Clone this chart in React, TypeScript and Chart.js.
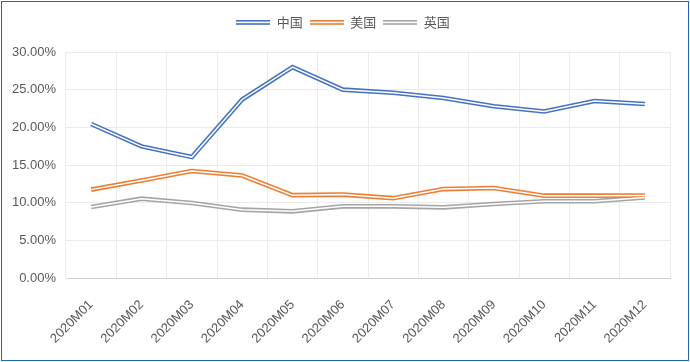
import React, { useEffect, useRef } from "react";
import { Chart, registerables } from "chart.js";

Chart.register(...registerables);

const categories = [
  "2020M01", "2020M02", "2020M03", "2020M04", "2020M05", "2020M06",
  "2020M07", "2020M08", "2020M09", "2020M10", "2020M11", "2020M12",
];
const seriesNames = ["中国", "美国", "英国"];
const chinaValues = [20.44, 17.47, 16.05, 23.7, 28.0, 25.0, 24.6, 23.9, 22.8, 22.1, 23.5, 23.1];
const usValues = [11.73, 12.93, 14.2, 13.6, 11.0, 11.07, 10.6, 11.8, 11.95, 10.93, 10.93, 10.96];
const ukValues = [9.42, 10.53, 9.96, 9.07, 8.85, 9.51, 9.51, 9.38, 9.82, 10.18, 10.18, 10.7];
const seriesColors = ["#4472C4", "#ED7D31", "#A5A5A5"];
const yMin = 0;
const yMax = 30;
const yStep = 5;

function makeSymbol(color: string): HTMLCanvasElement {
  const c = document.createElement("canvas");
  c.width = 34;
  c.height = 5;
  const ctx = c.getContext("2d")!;
  ctx.fillStyle = color;
  ctx.fillRect(0, 0, 34, 1.6);
  ctx.fillRect(0, 3.2, 34, 1.6);
  return c;
}

const legendSpacer = {
  id: "legendSpacer",
  beforeLayout(chart: any) {
    const lg = chart.legend;
    if (lg && !lg.__patched) {
      const orig = lg.fit;
      lg.fit = function (this: any) {
        orig.call(this);
        this.height += 13;
      };
      lg.__patched = true;
    }
  },
  afterLayout(chart: any) {
    const lg = chart.legend;
    if (lg) {
      lg.left += 8;
      lg.right += 8;
    }
  },
};

export default function App() {
  const ref = useRef<HTMLCanvasElement | null>(null);

  useEffect(() => {
    if (!ref.current) return;
    const all = [chinaValues, usValues, ukValues];
    const colored = all.map((vals, i) => ({
      label: seriesNames[i],
      data: vals,
      borderColor: seriesColors[i],
      backgroundColor: seriesColors[i],
      borderWidth: 4.6,
      pointRadius: 0,
      pointStyle: makeSymbol(seriesColors[i]),
      tension: 0,
      order: 1,
    }));
    const whites = all.map((vals, i) => ({
      label: "_w" + i,
      data: vals,
      borderColor: "#FFFFFF",
      backgroundColor: "#FFFFFF",
      borderWidth: 1.5,
      pointRadius: 0,
      tension: 0,
      order: 0,
    }));
    const tickFont = { family: "'Liberation Sans', Arial, sans-serif", size: 13 };
    const chart = new Chart(ref.current, {
      type: "line",
      data: { labels: categories, datasets: [...colored, ...whites] as any },
      plugins: [legendSpacer],
      options: {
        animation: false,
        responsive: false,
        layout: { padding: { top: 9, right: 20, bottom: 0, left: 0 } },
        plugins: {
          tooltip: { enabled: false },
          legend: {
            display: true,
            position: "top",
            labels: {
              usePointStyle: true,
              pointStyleWidth: 34,
              padding: 7,
              color: "#595959",
              font: { family: "'Noto Sans CJK SC', sans-serif", size: 13 },
              filter: (item: any) => item.datasetIndex < 3,
            },
          },
        },
        scales: {
          x: {
            offset: true,
            grid: { offset: true, color: "#EBEBEB", drawTicks: false },
            border: { color: "#D0D0D0" },
            ticks: {
              minRotation: 45,
              maxRotation: 45,
              padding: 19,
              color: "#595959",
              font: tickFont,
            },
            afterFit: (s: any) => { s.height = 84; },
          },
          y: {
            min: yMin,
            max: yMax,
            grid: { color: "#EBEBEB", drawTicks: false },
            border: { display: false },
            ticks: {
              stepSize: yStep,
              padding: 10,
              color: "#595959",
              font: tickFont,
              callback: (v: any) => Number(v).toFixed(2) + "%",
            },
            afterFit: (s: any) => { s.width = 66; },
          },
        },
      },
    });
    return () => chart.destroy();
  }, []);

  return (
    <div style={{ position: "absolute", left: 0, top: 0, width: 690, height: 362, background: "#fff" }}>
      <canvas ref={ref} width={690} height={362} style={{ position: "absolute", left: 0, top: 0 }} />
      <div
        style={{
          position: "absolute", left: 1, top: 1, width: 686, height: 358,
          border: "1px solid #1F6BB0", pointerEvents: "none",
        }}
      />
    </div>
  );
}
